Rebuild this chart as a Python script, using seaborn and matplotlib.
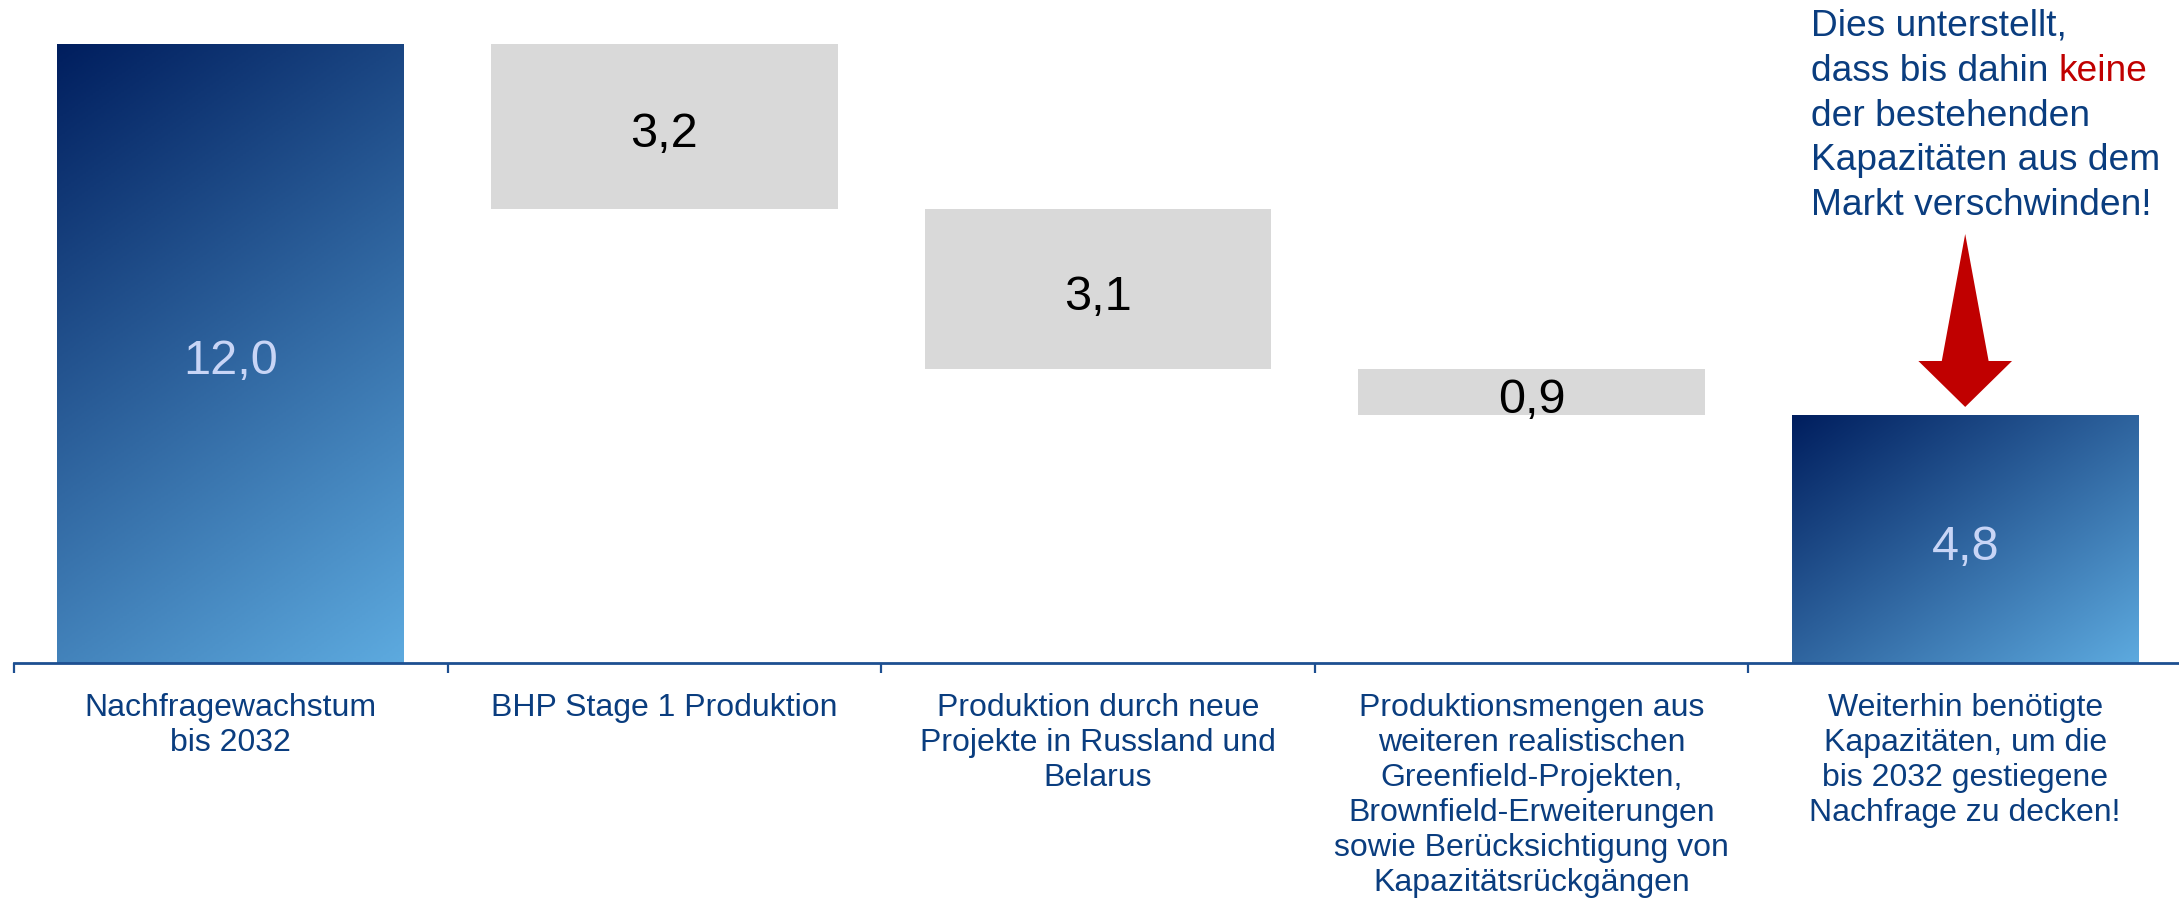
import numpy as np
import pandas as pd
import matplotlib
matplotlib.use("Agg")
import matplotlib.pyplot as plt
import seaborn as sns
from matplotlib.colors import LinearSegmentedColormap
from matplotlib.patches import Polygon

categories = [
    "Nachfragewachstum\nbis 2032",
    "BHP Stage 1 Produktion",
    "Produktion durch neue\nProjekte in Russland und\nBelarus",
    "Produktionsmengen aus\nweiteren realistischen\nGreenfield-Projekten,\nBrownfield-Erweiterungen\nsowie Berücksichtigung von\nKapazitätsrückgängen",
    "Weiterhin benötigte\nKapazitäten, um die\nbis 2032 gestiegene\nNachfrage zu decken!",
]
values = [12.0, 3.2, 3.1, 0.9, 4.8]
kinds = ["total", "step", "step", "step", "total"]

note_lines = [
    "Dies unterstellt,",
    "dass bis dahin ",
    "der bestehenden",
    "Kapazitäten aus dem",
    "Markt verschwinden!",
]
note_red = "keine"

NAVY = "#0A3D7F"
AXIS = "#1D4F91"
GREY = "#D9D9D9"
RED = "#C00000"

# waterfall bases: steps hang down from the running total
bases = []
running = 0.0
for v, k in zip(values, kinds):
    if k == "total":
        bases.append(0.0)
        running = v
    else:
        running -= v
        bases.append(running)

df = pd.DataFrame({"cat": categories, "value": values, "base": bases, "kind": kinds})
totals = df[df["kind"] == "total"]
steps = df[df["kind"] == "step"]

sns.set_theme(style="white")
plt.rcParams["font.family"] = ["Liberation Sans", "DejaVu Sans"]

fig = plt.figure(figsize=(21.79, 9.03), dpi=100)
ax = fig.add_axes([14 / 2179, (903 - 664) / 903, 2168 / 2179, (664 - 44.5) / 903])

sns.barplot(data=totals, x="cat", y="value", order=categories, color="#2D659F",
            saturation=1, width=0.8, errorbar=None, linewidth=0, ax=ax)
sns.barplot(data=steps, x="cat", y="value", order=categories, color=GREY,
            saturation=1, width=0.8, errorbar=None, linewidth=0,
            bottom=steps["base"].values, ax=ax)

ax.set_xlim(-0.5, len(categories) - 0.5)
ax.set_ylim(0, max(values))

# diagonal gradient on the total bars (dark top-left -> light bottom-right)
cmap = LinearSegmentedColormap.from_list("blu", ["#001E5E", "#5DAADF"])
total_patches = list(ax.patches)[: len(totals)]
for p in total_patches:
    x0, y0, w, h = p.get_x(), p.get_y(), p.get_width(), p.get_height()
    (px0, py0), (px1, py1) = ax.transData.transform([(x0, y0), (x0 + w, y0 + h)])
    wp, hp = px1 - px0, py1 - py0
    n = 300
    xx, yy = np.meshgrid(np.linspace(0, wp, n), np.linspace(0, hp, n))
    t = (0.7 * xx + yy) / (0.7 * wp + hp)
    im = ax.imshow(t, cmap=cmap, vmin=0, vmax=1, origin="upper", aspect="auto",
                   extent=(x0, x0 + w, y0, y0 + h), interpolation="bilinear", zorder=2)
    im.set_clip_path(p)
    p.set_facecolor("none")
ax.set_xlim(-0.5, len(categories) - 0.5)
ax.set_ylim(0, max(values))

# value labels
for i, row in df.iterrows():
    label = f"{row['value']:.1f}".replace(".", ",")
    col = "#C8D5F6" if row["kind"] == "total" else "black"
    ax.annotate(label, xy=(i, row["base"] + row["value"] / 2), xytext=(0, -5.5),
                textcoords="offset points", ha="center", va="center",
                fontsize=35, color=col, zorder=4)

# axis styling
for s in ["top", "right", "left"]:
    ax.spines[s].set_visible(False)
ax.spines["bottom"].set_color(AXIS)
ax.spines["bottom"].set_linewidth(2)
ax.spines["bottom"].set_zorder(5)
ax.set_yticks([])
ax.set_xlabel("")
ax.set_ylabel("")
ax.set_xticks(range(len(categories)))
ax.set_xticklabels(categories, fontsize=23, color=NAVY, linespacing=1.22)
ax.set_xticks(np.arange(-0.5, len(categories), 1.0), minor=True)
ax.tick_params(axis="x", which="major", length=0, pad=21)
ax.tick_params(axis="x", which="minor", length=7.5, width=1.6, color=AXIS,
               direction="out", bottom=True)

# arrow above the last bar
last = len(values) - 1
top5 = values[last]
arrow = Polygon([(last, top5 + 3.51), (last + 0.054, top5 + 1.05), (last + 0.108, top5 + 1.05),
                 (last, top5 + 0.16), (last - 0.108, top5 + 1.05), (last - 0.054, top5 + 1.05)],
                closed=True, facecolor=RED, edgecolor="none", clip_on=False, zorder=6)
ax.add_patch(arrow)

# note text
texts = []
for i, line in enumerate(note_lines):
    y = 1 - (36 + 44.75 * i) / 903
    texts.append(fig.text(1811 / 2179, y, line, fontsize=26.7, color=NAVY,
                          ha="left", va="baseline"))
ax.annotate(note_red, xy=(1, 0), xycoords=texts[1], fontsize=26.7, color=RED,
            ha="left", va="bottom", annotation_clip=False)

fig.savefig("out.png", dpi=100)
